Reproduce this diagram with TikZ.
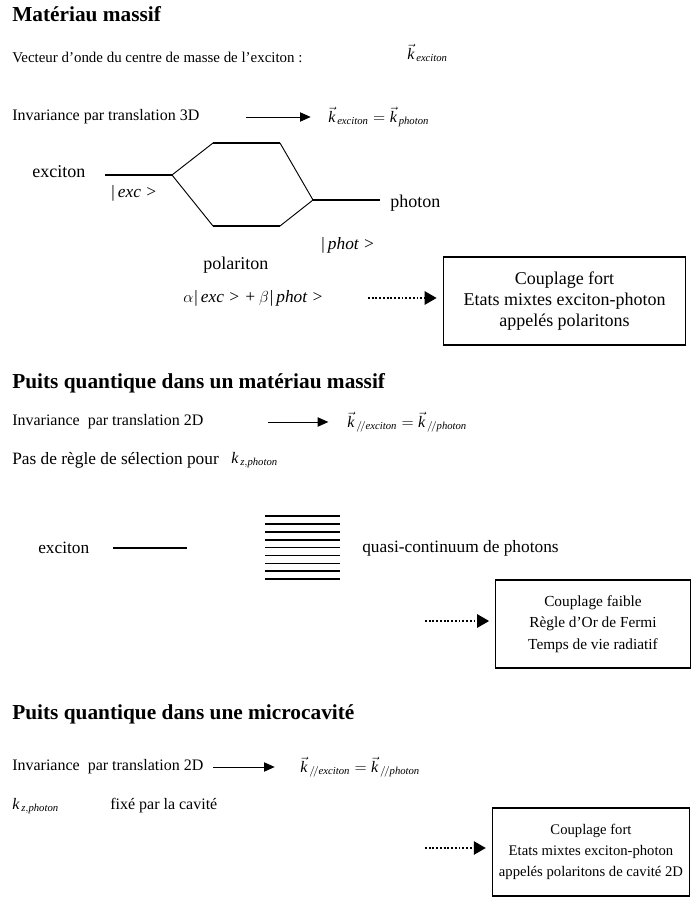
\documentclass[tikz,border=0pt]{standalone}
\usepackage{fontspec}
\setmainfont{Liberation Serif}
\usetikzlibrary{arrows.meta,calc,positioning}

\begin{document}
\begin{tikzpicture}[
    x=0.75pt, y=-0.75pt,
    >=Latex,
    every node/.style={font=\fontsize{12}{16}\selectfont, inner sep=0pt},
    sectionTitle/.style={anchor=west, font=\fontsize{16}{18}\selectfont\bfseries},
    plainText/.style={anchor=west},
    bigText/.style={anchor=west, font=\fontsize{13.5}{16}\selectfont},
    ketText/.style={anchor=west, font=\fontsize{13}{16}\selectfont\itshape},
    levelLine/.style={line width=1.3pt},
    slopeLine/.style={line width=0.7pt},
    implyArrow/.style={-{Triangle[length=8pt,width=7pt]}, line width=0.6pt},
    dottedArrow/.style={-{Triangle[length=9pt,width=10pt]}, line width=1.3pt, dash pattern=on 1.4pt off 1.4pt},
    resultBox/.style={draw, line width=0.8pt, align=center, minimum height=66pt},
  ]
  \useasboundingbox (0,0) rectangle (695,905);

  % bulk material
  \node[sectionTitle] (titleBulk) at (12,14) {Matériau massif};
  \node[plainText, font=\fontsize{11.2}{13}\selectfont] (waveVector) at (12,57) {Vecteur d'onde du centre de masse de l'exciton :};
  \node[plainText] (kExc) at (407,53) {$\vec{\mathit{k}}_{\,\mathit{exciton}}$};
  \node[plainText] (inv3D) at (12,117) {Invariance par translation 3D};
  \node[plainText] (kEq3D) at (328,117) {$\vec{\mathit{k}}_{\,\mathit{exciton}} = \vec{\mathit{k}}_{\,\mathit{photon}}$};
  \coordinate (arr3D) at (246,117);
  \draw[implyArrow, shorten >=13pt] (arr3D) -- (kEq3D.west);

  \node[bigText] (excLabel) at (32,172) {exciton};
  \node[bigText] (photLabel) at (390,203) {photon};
  \node[ketText] (excKet) at (110,193) {|\,exc\ >};
  \node[ketText] (photKet) at (320,245) {|\,phot\ >};
  \node[bigText] (polLabel) at (203,265) {polariton};
  \node[ketText] (mixState) at (183,298) {$\alpha$|\,exc\ > +\,$\beta$|\,phot\ >};

  \coordinate (excL) at (105,175);
  \coordinate (excR) at (172,175);
  \coordinate (upL) at (213,143);
  \coordinate (upR) at (280,143);
  \coordinate (loL) at (213,226);
  \coordinate (loR) at (280,226);
  \coordinate (photL) at (313,200);
  \coordinate (photR) at (380,200);
  % lines
  \draw[levelLine] (excL) -- (excR);
  \draw[levelLine] (upL) -- (upR);
  \draw[levelLine] (loL) -- (loR);
  \draw[levelLine] (photL) -- (photR);
  \draw[slopeLine] (excR) -- (upL) (upR) -- (photL) -- (loR) (loL) -- (excR);

  \node[resultBox, minimum width=182pt, font=\fontsize{13.5}{16}\selectfont] (boxStrong) at (564.5,301)
    {Couplage fort\\Etats mixtes exciton-photon\\appelés polaritons};
  \coordinate (mixStart) at (368,298);
  \draw[dottedArrow, shorten >=4.5pt] (mixStart) -- (mixStart -| boxStrong.west);

  % quantum well in bulk material
  \node[sectionTitle] (titleWell) at (12,383) {Puits quantique dans un matériau massif};
  \node[plainText] (inv2D) at (12,422) {Invariance\ \ par translation 2D};
  \node[plainText] (kEq2D) at (347,422) {$\vec{\mathit{k}}_{\,/\!/\mathit{exciton}} = \vec{\mathit{k}}_{\,/\!/\mathit{photon}}$};
  \coordinate (arr2D) at (268,422);
  \draw[implyArrow, shorten >=14pt] (arr2D) -- (kEq2D.west);
  \node[plainText, font=\fontsize{13}{16}\selectfont] (noRule) at (12,460) {Pas de règle de sélection pour};
  \node[plainText, right=9pt of noRule] (kzFree) {$\mathit{k}_{\,\mathit{z,photon}}$};

  \node[plainText, font=\fontsize{13}{16}\selectfont] (excLabelB) at (38,548) {exciton};
  \coordinate (excBL) at (113,548);
  \coordinate (excBR) at (187,548);
  \draw[levelLine] (excBL) -- (excBR);
  \foreach \i in {0,...,8}
    \draw[levelLine] (265,{516+7.9*\i}) -- (340,{516+7.9*\i});
  \node[plainText, font=\fontsize{13}{16}\selectfont] (contLabel) at (362,548) {quasi-continuum de photons};

  \node[resultBox, minimum width=146pt, font=\fontsize{11.5}{16}\selectfont] (boxWeak) at (593,624)
    {Couplage faible\\Règle d'Or de Fermi\\Temps de vie radiatif};
  \coordinate (weakStart) at (425,621);
  \draw[dottedArrow, shorten >=4.5pt] (weakStart) -- (weakStart -| boxWeak.west);

  % quantum well in a microcavity
  \node[sectionTitle] (titleCavity) at (12,714) {Puits quantique dans une microcavité};
  \node[plainText] (invCav) at (12,767) {Invariance\ \ par translation 2D};
  \node[plainText] (kEqCav) at (300,767) {$\vec{\mathit{k}}_{\,/\!/\mathit{exciton}} = \vec{\mathit{k}}_{\,/\!/\mathit{photon}}$};
  \coordinate (arrCav) at (213,767);
  \draw[implyArrow, shorten >=19pt] (arrCav) -- (kEqCav.west);
  \node[plainText] (kzCav) at (12,806) {$\mathit{k}_{\,\mathit{z,photon}}$};
  \node[plainText] (fixedCav) at (110,806) {fixé par la cavité};

  \node[resultBox, minimum width=148pt, font=\fontsize{11}{16}\selectfont] (boxCavity) at (591,852)
    {Couplage fort\\Etats mixtes exciton-photon\\appelés polaritons de cavité 2D};
  \coordinate (cavStart) at (425,848);
  \draw[dottedArrow, shorten >=4.5pt] (cavStart) -- (cavStart -| boxCavity.west);
\end{tikzpicture}
\end{document}
